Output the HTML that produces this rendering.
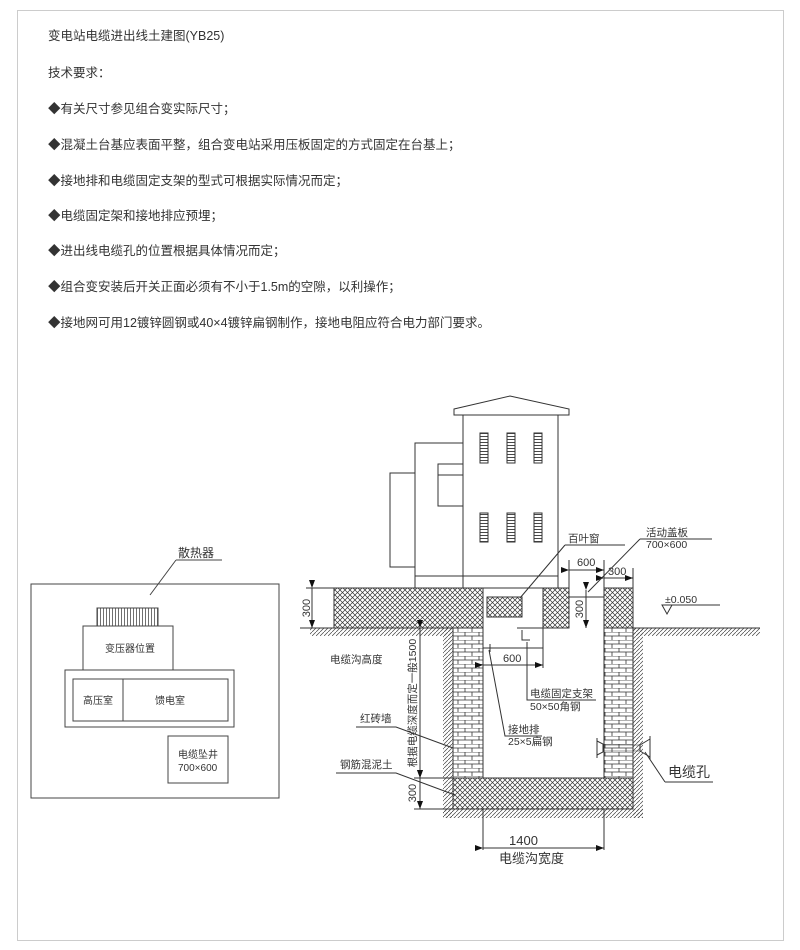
<!DOCTYPE html>
<html><head><meta charset="utf-8"><style>
html,body{margin:0;padding:0;background:#fff;}
svg{display:block;}
text{font-family:"Liberation Sans","Noto Sans CJK SC",sans-serif;fill:#333;}
</style></head><body>
<svg width="800" height="950" viewBox="0 0 800 950" xmlns="http://www.w3.org/2000/svg">
<defs>
<pattern id="xh" width="5" height="5" patternUnits="userSpaceOnUse">
<rect width="5" height="5" fill="#fff"/>
<path d="M0,0L5,5M5,0L0,5" stroke="#333" stroke-width="0.7"/>
</pattern>
<pattern id="br" width="14" height="8" patternUnits="userSpaceOnUse">
<rect width="14" height="8" fill="#fff"/>
<path d="M0,0H14M0,4H14M3,0V4M10,4V8" stroke="#333" stroke-width="0.8" fill="none"/>
</pattern>
<pattern id="ht" width="4" height="4" patternUnits="userSpaceOnUse">
<path d="M0,4L4,0" stroke="#444" stroke-width="0.7"/>
</pattern>
<pattern id="lv" width="4" height="3" patternUnits="userSpaceOnUse">
<rect width="4" height="3" fill="#fff"/><path d="M0,1.5H4" stroke="#333" stroke-width="0.9"/>
</pattern>
<pattern id="fin" width="3" height="4" patternUnits="userSpaceOnUse">
<path d="M1.5,0V4" stroke="#333" stroke-width="0.7"/>
</pattern>
<marker id="ar" markerWidth="8" markerHeight="6" refX="8" refY="3" orient="auto" markerUnits="userSpaceOnUse">
<path d="M0,0L8,3L0,6Z" fill="#111"/></marker>
</defs>
<rect x="17.5" y="10.5" width="766" height="930" fill="none" stroke="#ccc"/>
<g font-size="12.5">
<text x="48" y="40">变电站电缆进出线土建图(YB25)</text>
<text x="48" y="77">技术要求：</text>
<text x="48" y="113">◆有关尺寸参见组合变实际尺寸；</text>
<text x="48" y="149">◆混凝土台基应表面平整，组合变电站采用压板固定的方式固定在台基上；</text>
<text x="48" y="185">◆接地排和电缆固定支架的型式可根据实际情况而定；</text>
<text x="48" y="220">◆电缆固定架和接地排应预埋；</text>
<text x="48" y="255">◆进出线电缆孔的位置根据具体情况而定；</text>
<text x="48" y="291">◆组合变安装后开关正面必须有不小于1.5m的空隙，以利操作；</text>
<text x="48" y="327">◆接地网可用12镀锌圆钢或40×4镀锌扁钢制作，接地电阻应符合电力部门要求。</text>
</g>

<!-- plan view -->
<g stroke="#444" stroke-width="1" fill="none">
<rect x="31" y="584" width="248" height="214"/>
<rect x="97" y="608" width="61" height="18" fill="url(#fin)"/>
<rect x="83" y="626" width="90" height="44"/>
<rect x="65" y="670" width="169" height="57"/>
<rect x="73" y="679" width="50" height="42"/>
<rect x="123" y="679" width="105" height="42"/>
<rect x="168" y="736" width="60" height="47"/>
<path d="M176,560H222M176,560L150,595"/>
</g>
<g font-size="10">
<text x="178" y="557" font-size="12">散热器</text>
<text x="105" y="652">变压器位置</text>
<text x="83" y="704">高压室</text>
<text x="155" y="704">馈电室</text>
<text x="178" y="758">电缆坠井</text>
<text x="178" y="771">700×600</text>
</g>

<!-- section: building -->
<g stroke="#333" stroke-width="1" fill="none">
<path d="M454,409L510,396L569,409V415H454Z" fill="#fff"/>
<rect x="463" y="415" width="95" height="173"/>
<rect x="415" y="443" width="48" height="145"/>
<rect x="438" y="464" width="25" height="42"/>
<path d="M438,475H463"/>
<rect x="390" y="473" width="25" height="94"/>
<path d="M415,576H558"/>
<g fill="url(#lv)">
<rect x="480" y="433" width="8" height="30"/><rect x="507" y="433" width="8" height="30"/><rect x="534" y="433" width="8" height="30"/>
<rect x="480" y="513" width="8" height="29"/><rect x="507" y="513" width="8" height="29"/><rect x="534" y="513" width="8" height="29"/>
</g>
</g>

<!-- soil hatching -->
<g stroke="none" fill="url(#ht)">
<rect x="310" y="628" width="143" height="8"/>
<rect x="443" y="628" width="10" height="190"/>
<rect x="633" y="628" width="10" height="190"/>
<rect x="443" y="809" width="200" height="9"/>
<rect x="633" y="628" width="127" height="8"/>
</g>
<g stroke="#333" stroke-width="1" fill="none">
<path d="M300,628H483M633,628H760"/>
</g>
<!-- slab and blocks -->
<g stroke="#333" stroke-width="1">
<rect x="334" y="588" width="149" height="40" fill="url(#xh)"/>
<rect x="487" y="597" width="35" height="20" fill="url(#xh)"/>
<rect x="543" y="588" width="26" height="40" fill="url(#xh)"/>
<rect x="604" y="588" width="29" height="40" fill="url(#xh)"/>
<rect x="453" y="628" width="30" height="150" fill="url(#br)"/>
<rect x="604" y="628" width="29" height="150" fill="url(#br)"/>
<rect x="453" y="778" width="180" height="31" fill="url(#xh)"/>
</g>
<g stroke="#333" stroke-width="1" fill="none">
<path d="M569,597H604"/>
<path d="M517,628H569"/>
<path d="M522,630V640H530"/>
<path d="M543,628V668"/>
<path d="M483,648H490M490,644V652M490,648H543"/>
<path d="M483,665H543" marker-start="url(#ar)" marker-end="url(#ar)" stroke-width="0.9"/>
<path d="M527,642V700H596"/>
<path d="M489,650L505,736H542"/>
<path d="M356,727H396L453,748"/>
<path d="M336,773H396L455,795"/>
<!-- vertical dims -->
<path d="M312,588V628" marker-start="url(#ar)" marker-end="url(#ar)"/>
<path d="M306,588H334"/>
<path d="M420,628V778" marker-start="url(#ar)" marker-end="url(#ar)"/>
<path d="M420,778V809" marker-start="url(#ar)" marker-end="url(#ar)"/>
<path d="M414,778H453M414,809H453"/>
<path d="M586,590V628" marker-start="url(#ar)" marker-end="url(#ar)"/>
<path d="M569,560V588M604,560V588M633,568V588"/>
<path d="M569,570H604" marker-start="url(#ar)" marker-end="url(#ar)"/>
<path d="M604,578H633" marker-start="url(#ar)" marker-end="url(#ar)"/>
<path d="M483,809V850M604,809V850"/>
<path d="M483,848H604" marker-start="url(#ar)" marker-end="url(#ar)"/>
<!-- leaders -->
<path d="M565,545H625M565,545L520,598"/>
<path d="M640,539H712M640,539L588,592"/>
<path d="M662,605H720M662,605L672,605L667,614Z"/>
<path d="M665,782H713M665,782L645,752"/>
<!-- cable hole -->
<path d="M597,738V758M597,741L603,744V752L597,755"/>
<path d="M650,736V760M650,739L640,745V751L650,757"/>
<path d="M603,745H640M603,751H640" stroke-width="0.6"/>
</g>
<g font-size="11">
<text x="306" y="608" transform="rotate(-90 306 608)" text-anchor="middle" dy="4">300</text>
<text x="412" y="793" transform="rotate(-90 412 793)" text-anchor="middle" dy="4">300</text>
<text x="579" y="609" transform="rotate(-90 579 609)" text-anchor="middle" dy="4">300</text>
<text x="412" y="703" transform="rotate(-90 412 703)" text-anchor="middle" dy="4" font-size="10.5">根据电缆深度而定一般1500</text>
<text x="577" y="566">600</text>
<text x="608" y="575">300</text>
<text x="503" y="662">600</text>
<text x="568" y="542" font-size="10.5">百叶窗</text>
<text x="646" y="536" font-size="10.5">活动盖板</text>
<text x="646" y="548" font-size="10.5">700×600</text>
<text x="665" y="603" font-size="10.5">±0.050</text>
<text x="330" y="663" font-size="10.5">电缆沟高度</text>
<text x="530" y="697" font-size="10.5">电缆固定支架</text>
<text x="530" y="710" font-size="10.5">50×50角钢</text>
<text x="508" y="733" font-size="10.5">接地排</text>
<text x="508" y="745" font-size="10.5">25×5扁钢</text>
<text x="360" y="722" font-size="10.5">红砖墙</text>
<text x="340" y="768" font-size="10.5">钢筋混泥土</text>
<text x="668" y="777" font-size="14">电缆孔</text>
<text x="509" y="845" font-size="13">1400</text>
<text x="499" y="863" font-size="13">电缆沟宽度</text>
</g>
</svg>
</body></html>
